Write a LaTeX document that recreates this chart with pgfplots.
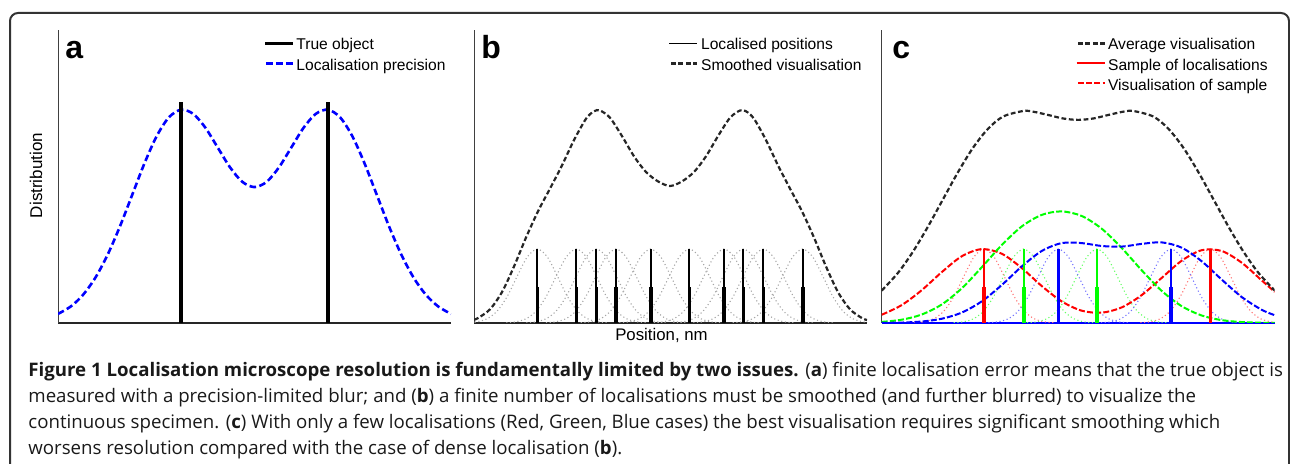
\documentclass[border=0pt]{standalone}
\usepackage{fontspec}
\setmainfont{Liberation Sans}
\newfontfamily\capfont{Open Sans}
\usepackage{pgfplots}
\usepackage{pgfplotstable}
\pgfplotsset{compat=1.18}
\definecolor{pgreen}{rgb}{0,1,0}
\definecolor{pblue}{rgb}{0,0,1}
\definecolor{pred}{rgb}{1,0,0}

% Panel a: localisation precision (blue dashed)
\pgfplotstableread{
x y
0 9.1
12.75 16.5
25 28.1
37.25 45.1
49.5 68.0
61.75 96.1
74 127.6
86.25 159.1
98.5 186.5
110.75 205.5
123 213.3
135.25 209.1
147.5 195.1
159.75 175.4
172 155.7
184.25 141.2
196.5 135.9
208.75 141.2
221 155.7
233.25 175.4
245.5 195.1
257.75 209.1
270 213.3
282.25 205.5
294.5 186.5
306.75 159.1
319 127.6
331.25 96.1
343.5 68.0
355.75 45.1
368 28.1
380.25 16.5
393 9.1
}\curveA
\pgfplotstableread{
x top low
123 221 109
270 221 109
}\sticksA

% Panel b: smoothed visualisation
\pgfplotstableread{
x y
0 3.3
4 4.9
16 13.7
28 30.9
40 56.5
52 85.4
64 111.7
76 134.4
88 157.6
100 182.9
112 204.2
120 211.7
126 212.5
136 205.2
148 186.9
160 166.7
172 151.0
184 141.6
196 137.0
208 141.6
220 151.0
232 166.7
244 186.9
256 205.2
266 212.5
272 211.7
280 204.2
292 182.9
304 157.6
316 134.4
328 111.7
340 85.4
352 56.5
364 30.9
376 13.7
388 4.9
393 3.0
}\curveB
\pgfplotstableread{
x top low
63.3 74 36
102.3 74 36
122.3 74 36
142 74 36
176.7 74 36
215.3 74 36
250 74 36
269.3 74 36
289.3 74 36
328.7 74 36
}\sticksB
% single-localisation blurs (dotted), one x column per localisation
\pgfplotstableread{
y xa xb xc xd xe xf xg xh xi xj
0.29 -6.7 32.3 52.3 72 106.7 145.3 180 199.3 219.3 258.7
1.25 3.3 42.3 62.3 82 116.7 155.3 190 209.3 229.3 268.7
4.35 13.3 52.3 72.3 92 126.7 165.3 200 219.3 239.3 278.7
12.1 23.3 62.3 82.3 102 136.7 175.3 210 229.3 249.3 288.7
26.7 33.3 72.3 92.3 112 146.7 185.3 220 239.3 259.3 298.7
47.0 43.3 82.3 102.3 122 156.7 195.3 230 249.3 269.3 308.7
66.1 53.3 92.3 112.3 132 166.7 205.3 240 259.3 279.3 318.7
74.0 63.3 102.3 122.3 142 176.7 215.3 250 269.3 289.3 328.7
66.1 73.3 112.3 132.3 152 186.7 225.3 260 279.3 299.3 338.7
47.0 83.3 122.3 142.3 162 196.7 235.3 270 289.3 309.3 348.7
26.7 93.3 132.3 152.3 172 206.7 245.3 280 299.3 319.3 358.7
12.1 103.3 142.3 162.3 182 216.7 255.3 290 309.3 329.3 368.7
4.35 113.3 152.3 172.3 192 226.7 265.3 300 319.3 339.3 378.7
1.25 123.3 162.3 182.3 202 236.7 275.3 310 329.3 349.3 388.7
0.29 133.3 172.3 192.3 212 246.7 285.3 320 339.3 359.3 398.7
}\blurs

% Panel c
\pgfplotstableread{
x y
0 32.4
16.5 50.4
31.5 71.7
46.5 96.8
61.5 124.1
76.5 151.2
91.5 175.5
106.5 194.4
121.5 206.5
141.5 212.0
151.5 211.3
166.5 208.0
181.5 204.5
196.5 203.1
211.5 204.5
226.5 208.0
241.5 211.3
251.5 212.0
271.5 206.5
286.5 194.4
301.5 175.5
316.5 151.2
331.5 124.1
346.5 96.8
361.5 71.7
376.5 50.4
393 32.4
}\curveAvg
\pgfplotstableread{
x red green blue
0 8.24 1.08 0.11
20 17.9 3.29 0.43
40 32.8 8.47 1.47
60 50.8 18.5 4.25
80 66.7 34.6 10.4
100 73.9 55.7 21.6
120 69.3 77.9 37.9
140 55.0 96.5 56.5
160 37.0 108.1 72.0
180 21.6 111.6 79.9
200 12.3 107.0 79.9
220 10.3 94.3 77.0
240 15.6 75.0 76.4
260 27.9 52.7 79.1
280 45.1 32.1 80.6
300 62.3 16.8 75.3
320 72.8 7.5 61.7
340 72.0 2.86 43.4
360 60.3 0.92 26.0
380 42.6 0.25 13.2
393 31.1 0.10 7.8
}\curvesC
\pgfplotstableread{
x top low
102.3 74 36
328.7 74 36
}\sticksRed
\pgfplotstableread{
x top low
142 74 36
215.3 74 36
}\sticksGreen
\pgfplotstableread{
x top low
176.7 74 36
289.3 74 36
}\sticksBlue

\pgfplotsset{panel/.style={
  width=196.5pt, height=146.5pt, scale only axis,
  xmin=0, xmax=393, ymin=0, ymax=293,
  axis lines=left, axis line style={-},
  xtick=\empty, ytick=\empty,
  anchor=south west,
  x axis line style={line width=0.9pt, black!85},
  y axis line style={line width=0.5pt, black!75},
}}
\tikzset{
  blurb/.style={gray!70, line width=0.55pt, dash pattern=on 0.55pt off 1.3pt, smooth},
  stickthin/.style={ycomb, line width=1.15pt},
  stickthick/.style={ycomb, line width=1.8pt},
}
\newcommand\legfont{\fontsize{7.8}{9}\selectfont}

\begin{document}
\begin{tikzpicture}
\useasboundingbox (0,0) rectangle (645pt,232pt);

% ---------- panel a ----------
\begin{axis}[panel, at={(29pt,70.5pt)}]
\addplot[pblue, line width=1.3pt, dash pattern=on 3.3pt off 1.7pt, smooth] table[x=x,y=y] {\curveA};
\addplot[stickthin, black, line width=1.6pt] table[x=x,y=top] {\sticksA};
\addplot[stickthick, black, line width=2.4pt] table[x=x,y=low] {\sticksA};
\end{axis}

% ---------- panel b ----------
\begin{axis}[panel, at={(237pt,70.5pt)}]
\addplot[blurb] table[x=xa,y=y] {\blurs};
\addplot[blurb] table[x=xb,y=y] {\blurs};
\addplot[blurb] table[x=xc,y=y] {\blurs};
\addplot[blurb] table[x=xd,y=y] {\blurs};
\addplot[blurb] table[x=xe,y=y] {\blurs};
\addplot[blurb] table[x=xf,y=y] {\blurs};
\addplot[blurb] table[x=xg,y=y] {\blurs};
\addplot[blurb] table[x=xh,y=y] {\blurs};
\addplot[blurb] table[x=xi,y=y] {\blurs};
\addplot[blurb] table[x=xj,y=y] {\blurs};
\addplot[black!85, line width=1.1pt, dash pattern=on 2.4pt off 1.3pt, smooth] table[x=x,y=y] {\curveB};
\addplot[stickthin, black] table[x=x,y=top] {\sticksB};
\addplot[stickthick, black] table[x=x,y=low] {\sticksB};
\end{axis}

% ---------- panel c ----------
\begin{axis}[panel, at={(440.85pt,70.5pt)}, x axis line style={line width=1pt, pblue}]
\addplot[blurb, pred!55] table[x=xb,y=y] {\blurs};
\addplot[blurb, pred!55] table[x=xj,y=y] {\blurs};
\addplot[blurb, pgreen!60] table[x=xd,y=y] {\blurs};
\addplot[blurb, pgreen!60] table[x=xf,y=y] {\blurs};
\addplot[blurb, pblue!55] table[x=xe,y=y] {\blurs};
\addplot[blurb, pblue!55] table[x=xi,y=y] {\blurs};
\addplot[pred, line width=1pt, dash pattern=on 3pt off 1.1pt, smooth] table[x=x,y=red] {\curvesC};
\addplot[pgreen, line width=1pt, dash pattern=on 3pt off 1.1pt, smooth] table[x=x,y=green] {\curvesC};
\addplot[pblue, line width=1pt, dash pattern=on 3pt off 1.1pt, smooth] table[x=x,y=blue] {\curvesC};
\addplot[black!85, line width=1.1pt, dash pattern=on 2.4pt off 1.3pt, smooth] table[x=x,y=y] {\curveAvg};
\addplot[stickthin, pred] table[x=x,y=top] {\sticksRed};
\addplot[stickthick, pred] table[x=x,y=low] {\sticksRed};
\addplot[stickthin, pgreen] table[x=x,y=top] {\sticksGreen};
\addplot[stickthick, pgreen] table[x=x,y=low] {\sticksGreen};
\addplot[stickthin, pblue] table[x=x,y=top] {\sticksBlue};
\addplot[stickthick, pblue] table[x=x,y=low] {\sticksBlue};
\end{axis}

% ---------- annotations in image pixel coordinates ----------
\begin{scope}[yshift=232pt, x=0.5pt, y=-0.5pt]
  % frame
  \draw[black!80, line width=1pt, rounded corners=4pt] (10,470) -- (10,13) -- (1289,13) -- (1289,470);
  % panel letters
  \node[anchor=base west, inner sep=0, font=\fontsize{16}{16}\selectfont\bfseries] at (65,58.3) {a};
  \node[anchor=base west, inner sep=0, font=\fontsize{16}{16}\selectfont\bfseries] at (481,58.3) {b};
  \node[anchor=base west, inner sep=0, font=\fontsize{16}{16}\selectfont\bfseries] at (892,58.3) {c};
  % legend a
  \draw[black, line width=1.5pt] (265,43.5) -- (293,43.5);
  \node[anchor=base west, inner sep=0, font=\legfont] at (296,50) {True object};
  \draw[pblue, line width=1.3pt, dash pattern=on 3.3pt off 1.7pt] (266,63.5) -- (293,63.5);
  \node[anchor=base west, inner sep=0, font=\legfont] at (296,70.7) {Localisation precision};
  % legend b
  \draw[black, line width=0.65pt] (669,43.5) -- (697,43.5);
  \node[anchor=base west, inner sep=0, font=\legfont] at (700.7,50) {Localised positions};
  \draw[black!85, line width=1.1pt, dash pattern=on 2.4pt off 1.3pt] (671,63.5) -- (697,63.5);
  \node[anchor=base west, inner sep=0, font=\legfont] at (700.7,70.7) {Smoothed visualisation};
  % legend c
  \draw[black!85, line width=1.1pt, dash pattern=on 2.4pt off 1.3pt] (1078,43.5) -- (1105,43.5);
  \node[anchor=base west, inner sep=0, font=\legfont] at (1107.7,50) {Average visualisation};
  \draw[color=pred, line width=1pt] (1076.7,63.5) -- (1105,63.5);
  \node[anchor=base west, inner sep=0, font=\legfont] at (1107.7,70.7) {Sample of localisations};
  \draw[color=pred, line width=1pt, dash pattern=on 3pt off 1.1pt] (1078,83.5) -- (1105,83.5);
  \node[anchor=base west, inner sep=0, font=\legfont] at (1107.7,91) {Visualisation of sample};
  % axis labels
  \node[rotate=90, inner sep=0, font=\fontsize{8.5}{10}\selectfont] at (36,175.5) {Distribution};
  \node[anchor=base, inner sep=0, font=\fontsize{8.4}{10}\selectfont] at (661.5,340.5) {Position, nm};
  % caption
  \begin{scope}[every node/.style={anchor=base west, inner sep=0, font=\capfont\fontsize{9.33}{13}\selectfont, text=black!90}]
  \node at (28,376.3) {\textbf{Figure 1 Localisation microscope resolution is fundamentally limited by two issues.} (\textbf{a}) finite localisation error means that the true object is};
  \node at (28,402.3) {measured with a precision-limited blur; and (\textbf{b}) a finite number of localisations must be smoothed (and further blurred) to visualize the};
  \node at (28,428.3) {continuous specimen. (\textbf{c}) With only a few localisations (Red, Green, Blue cases) the best visualisation requires significant smoothing which};
  \node at (28,454.3) {worsens resolution compared with the case of dense localisation (\textbf{b}).};
  \end{scope}
\end{scope}
\end{tikzpicture}
\end{document}
